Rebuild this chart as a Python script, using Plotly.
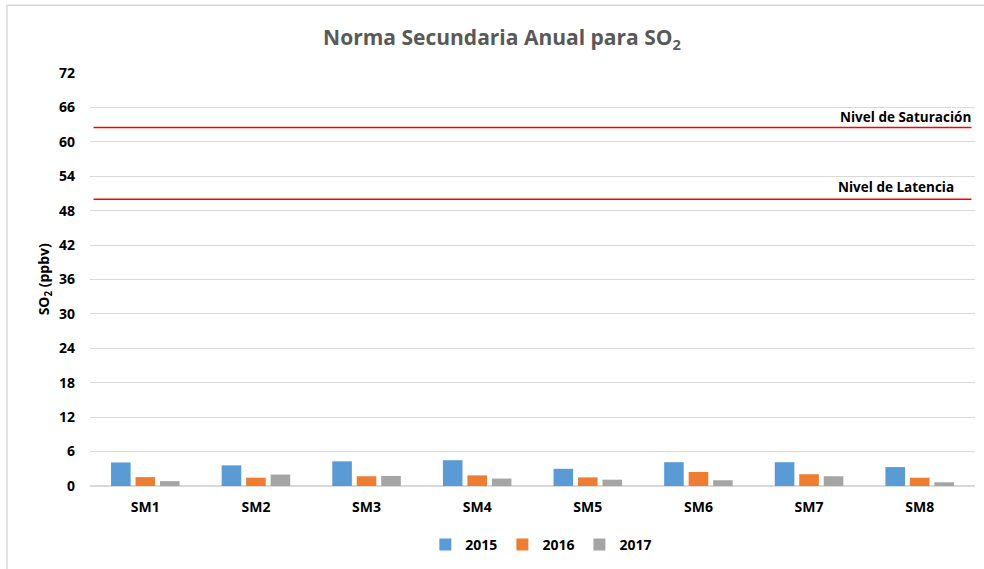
import plotly.graph_objects as go

categories = ["SM1", "SM2", "SM3", "SM4", "SM5", "SM6", "SM7", "SM8"]
values_2015 = [4.1, 3.6, 4.3, 4.5, 3.0, 4.15, 4.15, 3.3]
values_2016 = [1.55, 1.45, 1.7, 1.85, 1.5, 2.45, 2.05, 1.45]
values_2017 = [0.85, 2.0, 1.75, 1.3, 1.1, 1.0, 1.7, 0.65]
series_names = ["2015", "2016", "2017"]
series_colors = ["#5b9bd5", "#ed7d31", "#a5a5a5"]
level_names = ["Nivel de Saturación", "Nivel de Latencia"]
level_values = [62.5, 50.0]
y_ticks = [0, 6, 12, 18, 24, 30, 36, 42, 48, 54, 60, 66, 72]

FONT = "'Open Sans', sans-serif"

fig = go.Figure()
for name, vals, col in zip(series_names, [values_2015, values_2016, values_2017], series_colors):
    fig.add_trace(go.Bar(x=categories, y=vals, name="<b>" + name + "</b>", marker_color=col,
                         marker_line_width=0))

shapes = []
annotations = []
for name, lv in zip(level_names, level_values):
    shapes.append(dict(type="line", xref="paper", yref="y", x0=0.004, x1=0.996,
                       y0=lv, y1=lv, line=dict(color="#ff0000", width=1.6), layer="above"))
    annotations.append(dict(text="<b>" + name + "</b>", xref="paper", yref="y",
                            x=0.9975 if lv > 55 else 0.979, y=lv, xanchor="right", yanchor="bottom",
                            yshift=-1 if lv > 55 else 1, showarrow=False,
                            font=dict(family=FONT, size=13.5, color="#000000")))

# chart border
shapes.append(dict(type="rect", xref="paper", yref="paper", x0=-0.0938, x1=1.03,
                   y0=-0.23, y1=1.164, line=dict(color="#d9d9d9", width=1.5),
                   fillcolor="rgba(0,0,0,0)", layer="below"))

annotations.append(dict(text="<b>SO<sub>2</sub> (ppbv)</b>", xref="paper", yref="paper",
                        x=-0.051, y=0.5, textangle=-90, showarrow=False,
                        xanchor="center", yanchor="middle",
                        font=dict(family=FONT, size=14, color="#000000")))

fig.update_layout(
    width=984, height=569,
    margin=dict(l=90, r=9, t=73, b=82),
    paper_bgcolor="white", plot_bgcolor="white",
    title=dict(text="<b>Norma Secundaria Anual para SO<sub>2</sub></b>", x=502/984, xanchor="center",
               y=1 - 38/569, yanchor="middle",
               font=dict(family=FONT, size=21, color="#595959")),
    barmode="group", bargap=0.336, bargroupgap=0.2,
    font=dict(family=FONT, size=14, color="#000000"),
    legend=dict(orientation="h", x=0.51, xanchor="center", y=-0.14, yanchor="middle",
                font=dict(family=FONT, size=14, color="#000000"), traceorder="normal"),
    shapes=shapes, annotations=annotations,
)
fig.update_xaxes(showgrid=False, showline=False, ticks="", ticklabelstandoff=11,
                 tickfont=dict(family=FONT, size=14, color="#000000"),
                 tickprefix="<b>", ticksuffix="</b>")
fig.update_yaxes(range=[0, 72], tickvals=y_ticks, ticktext=["<b>%d</b>" % t for t in y_ticks],
                 showgrid=True, gridcolor="#d9d9d9", gridwidth=1,
                 zeroline=True, zerolinecolor="#d9d9d9", zerolinewidth=2,
                 showline=False, ticks="", ticklabelstandoff=14,
                 tickfont=dict(family=FONT, size=14, color="#000000"))

fig.write_html("out.html", config={"displayModeBar": False},
               post_script="document.body.style.margin='0';document.body.style.overflow='hidden';")
